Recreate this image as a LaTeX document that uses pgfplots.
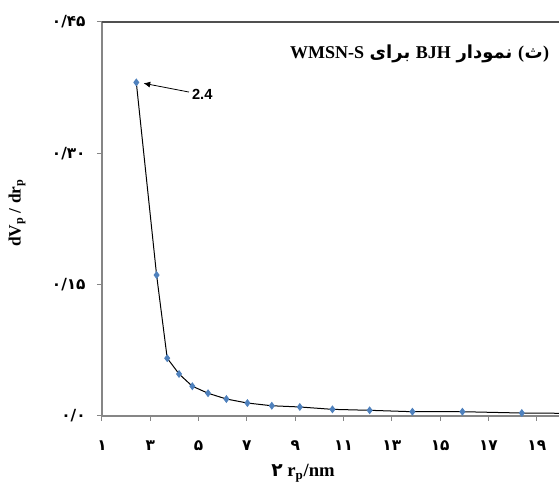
\documentclass[border=0pt]{standalone}
\usepackage{fontspec}
\setmainfont{Liberation Serif}
\newfontfamily\arabicfont[Script=Arabic]{DejaVu Sans}
\newfontfamily\arialfont{Liberation Sans}
\usepackage{pgfplots}
\pgfplotsset{compat=1.18}
\usetikzlibrary{arrows.meta}
\definecolor{mblue}{HTML}{4F81BD}
\definecolor{spine}{HTML}{868686}
\definecolor{topline}{HTML}{505050}
\tikzset{
  tt/.style={inner sep=0pt, anchor=base west, font=\bfseries\fontsize{13.5}{15}\selectfont},
  ta/.style={inner sep=0pt, anchor=base west, font=\arabicfont\bfseries\fontsize{13.5}{15}\selectfont},
}
\begin{document}
\begin{tikzpicture}
\useasboundingbox (-76.5pt,-51pt) rectangle (342.75pt,312pt);
\begin{axis}[
  at={(0pt,0pt)}, anchor=south west,
  scale only axis, width=342.75pt, height=295.5pt,
  xmin=1, xmax=19.92, ymin=0, ymax=0.45,
  axis line style={draw=none},
  clip mode=individual,
  xtick={1,3,...,19},
  xticklabels={۱,۳,۵,۷,۹,۱۱,۱۳,۱۵,۱۷,۱۹},
  ytick={0,0.15,0.30,0.45},
  yticklabels={۰/۰,۰/۱۵,۰/۳۰,۰/۴۵},
  xtick pos=left, ytick pos=left,
  tick align=outside, major tick length=3.75pt,
  tick style={spine, line width=0.75pt},
  ticklabel style={font=\arabicfont\bfseries\fontsize{11.5}{13}\selectfont},
  xticklabel style={yshift=-11pt},
  yticklabel style={xshift=-5pt},
]
\draw[spine, line width=0.9pt] (rel axis cs:0,0) -- (rel axis cs:0,1);
\draw[spine, line width=0.9pt] (rel axis cs:0,0) -- (rel axis cs:1,0);
\draw[topline, line width=1pt] (rel axis cs:0,1) -- (rel axis cs:1,1);
\addplot[black, line width=0.75pt, mark=diamond*, mark size=2.4pt,
  mark options={draw=mblue, fill=mblue}] table {
x y
2.42 0.381
3.26 0.161
3.70 0.066
4.19 0.048
4.74 0.034
5.39 0.026
6.15 0.0194
7.02 0.0148
8.03 0.0117
9.19 0.0103
10.54 0.0076
12.08 0.0065
13.85 0.0049
15.92 0.0049
18.38 0.0034
21.50 0.0028
};
\draw[black, line width=0.6pt, -{Latex[length=5pt,width=4.5pt]}] (axis cs:4.6,0.370) -- (axis cs:2.72,0.380);
\node[font=\arialfont\bfseries\fontsize{11}{13}\selectfont] at (axis cs:5.15,0.367) {2.4};
% title, visual order left to right: WMSN-S | baraye | BJH | nemoodar | (se)
\node[tt] (t1) at (rel axis cs:0.411,0.9086) {WMSN-S};
\node[ta] (t2) at ([xshift=3.8pt]t1.base east) {برای};
\node[tt] (t3) at ([xshift=3.8pt]t2.base east) {BJH};
\node[ta] (t4) at ([xshift=3.8pt]t3.base east) {نمودار};
\node[tt] (t5) at ([xshift=3.8pt]t4.base east) {(};
\node[ta] (t6) at (t5.base east) {ث};
\node[tt] (t7) at (t6.base east) {)};
\node[font=\bfseries\fontsize{13}{15}\selectfont, rotate=90] at (axis description cs:-0.186,0.515)
  {dV\textsubscript{p} / dr\textsubscript{p}};
\node[font=\bfseries\fontsize{14}{16}\selectfont] at (axis description cs:0.44,-0.1447)
  {{\arabicfont\bfseries ۲} r\textsubscript{p}/nm};
\end{axis}
\end{tikzpicture}
\end{document}
